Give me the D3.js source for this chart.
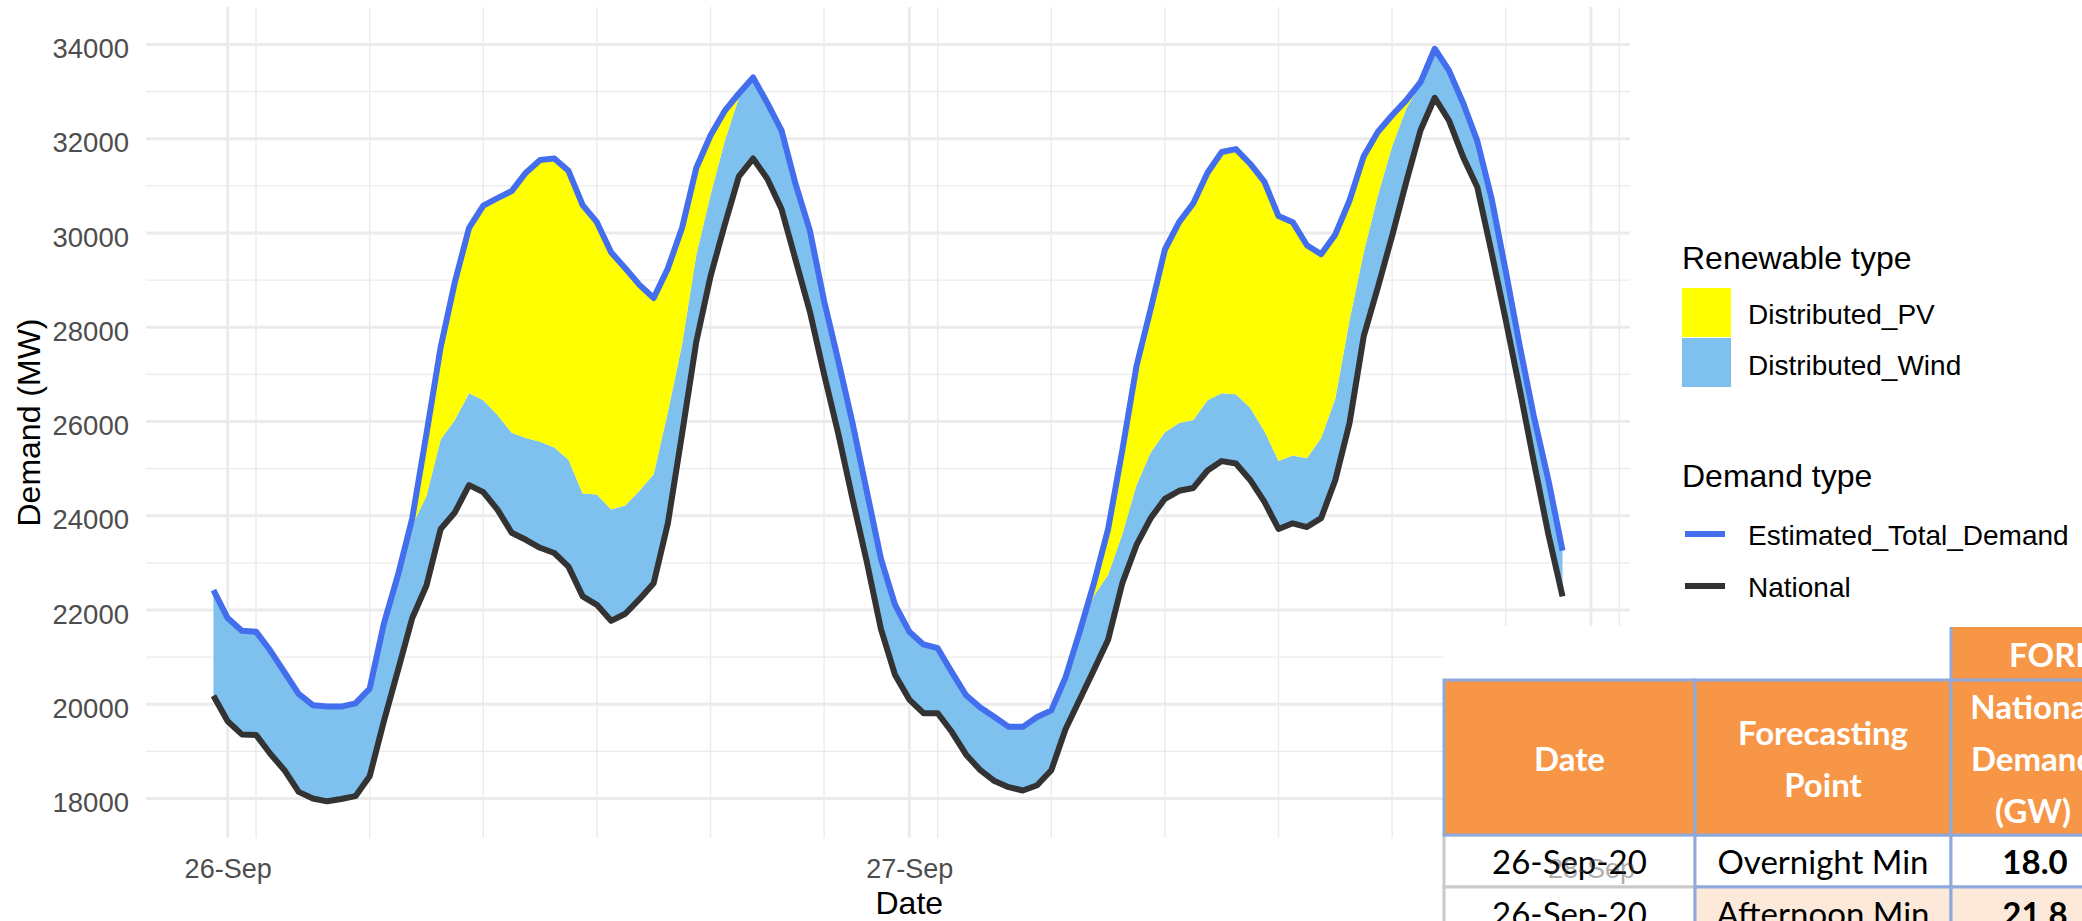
<!DOCTYPE html>
<html>
<head>
<meta charset="utf-8">
<script src="https://cdn.jsdelivr.net/npm/d3@7"></script>
<style>
    body { margin: 0; background: #fff; }
    #chart-area { width: 2082px; height: 921px; }
    svg text { font-family: "Liberation Sans", Arial, sans-serif; }
    .tbl text { font-family: Lato, "Open Sans", sans-serif; }
</style>
</head>
<body>
<div id="chart-area"></div>
<script>
// half-hourly values (MW), 25-Sep 23:30 -> 27-Sep 23:00
let national = [
    20180,19640,19360,19350,18950,18600,18140,18000,17940,17990,
    18050,18470,19640,20730,21830,22520,23720,24070,24650,24500,
    24130,23640,23490,23320,23210,22920,22290,22110,21770,21920,
    22230,22570,23840,25740,27690,29080,30170,31200,31580,31150,
    30510,29420,28330,27000,25740,24360,23030,21600,20620,20100,
    19810,19810,19410,18930,18600,18370,18240,18170,18280,18600,
    19470,20100,20730,21370,22570,23380,23950,24360,24530,24590,
    24960,25160,25110,24760,24300,23720,23840,23760,23950,24760,
    25970,27810,28850,29940,31090,32180,32870,32390,31610,30970,
    29590,28150,26660,25110,23610,22290];

let distributedWind = [
    2240,2190,2200,2190,2190,2080,2080,1980,2010,1960,
    1970,1860,2070,2020,1970,1900,1900,1960,1950,1950,
    2010,2120,2160,2250,2240,2270,2180,2340,2360,2300,
    2300,2310,2360,1900,1850,1720,1780,1670,1720,1610,
    1670,1610,1720,1560,1550,1610,1500,1490,1490,1440,
    1460,1380,1270,1260,1330,1360,1280,1350,1450,1270,
    1100,1440,1570,1380,1040,1270,1390,1410,1440,1440,
    1490,1440,1470,1530,1500,1440,1440,1460,1700,1730,
    2180,1780,1950,1900,1550,980,1040,1060,1150,980,
    1150,1040,920,970,1150,970];

let distributedPV = [
    0,0,0,0,0,0,0,0,0,0,
    0,0,0,0,150,1320,1960,2930,3510,4130,
    4600,5130,5630,5980,6130,6130,6120,5780,5460,5030,
    4370,3740,3050,2470,1840,1270,640,90,0,0,
    0,0,0,0,0,0,0,0,0,0,
    0,0,0,0,0,0,0,0,0,0,
    0,0,270,970,1780,2530,3050,3880,4260,4600,
    4830,5120,5200,5180,5290,5200,4950,4520,3900,3480,
    2540,2040,1350,660,180,40,0,0,0,0,
    0,0,0,0,0,0];

let startTime = new Date(Date.UTC(2020, 8, 25, 23, 30));
let xTickDates = [new Date(Date.UTC(2020, 8, 26)), new Date(Date.UTC(2020, 8, 27)), new Date(Date.UTC(2020, 8, 28))];
let yTicks = [18000, 20000, 22000, 24000, 26000, 28000, 30000, 32000, 34000];
let yMinorTicks = [19000, 21000, 23000, 25000, 27000, 29000, 31000, 33000];

let renewableTypes = ["Distributed_PV", "Distributed_Wind"];
let demandTypes = ["Estimated_Total_Demand", "National"];

let forecastLabel = "FORECAST";
let tableHeader = [["Date"], ["Forecasting", "Point"], ["National", "Demand", "(GW)"]];
let tableRows = [
    ["26-Sep-20", "Overnight Min", "18.0"],
    ["26-Sep-20", "Afternoon Min", "21.8"]
];

class DemandChart {

    constructor(parentElement) {
        this.parentElement = parentElement;
        this.colors = {
            Distributed_PV: "#ffff00",
            Distributed_Wind: "#7ec0ee",
            Estimated_Total_Demand: "#436eee",
            National: "#333333"
        };
        this.initVis();
    }

    initVis() {
        let vis = this;
        vis.width = 2082;
        vis.height = 921;
        vis.panel = {left: 146, right: 1630, top: 7, bottom: 838};

        vis.svg = d3.select("#" + vis.parentElement).append("svg")
            .attr("width", vis.width)
            .attr("height", vis.height);

        vis.wrangleData();
    }

    wrangleData() {
        let vis = this;

        vis.displayData = national.map((d, i) => ({
            time: d3.utcMinute.offset(startTime, 30 * i),
            National: d,
            Distributed_Wind: distributedWind[i],
            Distributed_PV: distributedPV[i]
        }));

        vis.stacked = d3.stack()
            .keys(["National", "Distributed_Wind", "Distributed_PV"])(vis.displayData);

        vis.updateVis();
    }

    updateVis() {
        let vis = this;

        // ggplot-like 5% expansion on x
        let ext = d3.extent(vis.displayData, d => d.time);
        let pad = (ext[1] - ext[0]) * 0.05;
        vis.x = d3.scaleUtc()
            .domain([new Date(+ext[0] - pad), new Date(+ext[1] + pad)])
            .range([vis.panel.left, vis.panel.right]);
        vis.y = d3.scaleLinear()
            .domain([18000, 34000])
            .range([798.5, 44.5]);

        let xMinor = d3.utcHour.range(vis.x.domain()[0], vis.x.domain()[1])
            .filter(d => d.getUTCHours() % 4 === 1);

        // grid
        let grid = vis.svg.append("g").attr("class", "grid");
        grid.selectAll(".hminor").data(yMinorTicks).enter().append("line")
            .attr("x1", vis.panel.left).attr("x2", vis.panel.right)
            .attr("y1", d => vis.y(d)).attr("y2", d => vis.y(d))
            .attr("stroke", "#ebebeb").attr("stroke-width", 1.4);
        grid.selectAll(".vminor").data(xMinor).enter().append("line")
            .attr("y1", vis.panel.top).attr("y2", vis.panel.bottom)
            .attr("x1", d => vis.x(d)).attr("x2", d => vis.x(d))
            .attr("stroke", "#ebebeb").attr("stroke-width", 1.4);
        grid.selectAll(".hmajor").data(yTicks).enter().append("line")
            .attr("x1", vis.panel.left).attr("x2", vis.panel.right)
            .attr("y1", d => vis.y(d)).attr("y2", d => vis.y(d))
            .attr("stroke", "#ebebeb").attr("stroke-width", 2.8);
        grid.selectAll(".vmajor").data(xTickDates).enter().append("line")
            .attr("y1", vis.panel.top).attr("y2", vis.panel.bottom)
            .attr("x1", d => vis.x(d)).attr("x2", d => vis.x(d))
            .attr("stroke", "#ebebeb").attr("stroke-width", 2.8);

        // stacked areas (wind, pv)
        let area = d3.area()
            .x(d => vis.x(d.data.time))
            .y0(d => vis.y(d[0]))
            .y1(d => vis.y(d[1]));

        vis.svg.selectAll(".layer")
            .data(vis.stacked.slice(1))
            .enter()
            .append("path")
            .attr("class", "layer")
            .attr("d", area)
            .attr("fill", d => vis.colors[d.key]);

        // demand lines
        let line = d3.line()
            .x(d => vis.x(d.data.time))
            .y(d => vis.y(d[1]));

        vis.svg.append("path")
            .datum(vis.stacked[2])
            .attr("d", line)
            .attr("fill", "none")
            .attr("stroke", vis.colors.Estimated_Total_Demand)
            .attr("stroke-width", 6)
            .attr("stroke-linejoin", "round");

        vis.svg.append("path")
            .datum(vis.stacked[0])
            .attr("d", line)
            .attr("fill", "none")
            .attr("stroke", vis.colors.National)
            .attr("stroke-width", 6)
            .attr("stroke-linejoin", "round");

        // y axis
        let yAxis = vis.svg.append("g")
            .attr("transform", `translate(${vis.panel.left},0)`)
            .call(d3.axisLeft(vis.y).tickValues(yTicks).tickSize(0).tickPadding(17).tickFormat(d3.format("d")));
        yAxis.select(".domain").remove();
        yAxis.selectAll("text")
            .attr("dy", 13)
            .style("font-size", "27.5px")
            .style("font-family", "Liberation Sans, Arial, sans-serif")
            .attr("fill", "#4d4d4d");

        vis.svg.append("text")
            .attr("transform", `translate(40,${(vis.panel.top + vis.panel.bottom) / 2}) rotate(-90)`)
            .attr("text-anchor", "middle")
            .style("font-size", "32px")
            .attr("fill", "black")
            .text("Demand (MW)");

        vis.svg.append("text")
            .attr("x", vis.x(xTickDates[1]))
            .attr("y", 914)
            .attr("text-anchor", "middle")
            .style("font-size", "32px")
            .attr("fill", "black")
            .text("Date");

        vis.drawLegend();
        vis.drawTable();

        // x axis drawn after the table so the 28-Sep label shows through faintly
        let xAxis = vis.svg.append("g")
            .attr("transform", `translate(0,${vis.panel.bottom})`)
            .call(d3.axisBottom(vis.x).tickValues(xTickDates).tickSize(0).tickPadding(21)
                .tickFormat(d3.utcFormat("%d-%b")));
        xAxis.select(".domain").remove();
        xAxis.selectAll("text")
            .style("font-size", "27px")
            .style("font-family", "Liberation Sans, Arial, sans-serif")
            .attr("fill", "#4d4d4d")
            .attr("opacity", (d, i) => i === 2 ? 0.45 : 1);
    }

    drawLegend() {
        let vis = this;
        let lg = vis.svg.append("g").attr("class", "legend");

        lg.append("text").attr("x", 1682).attr("y", 269)
            .style("font-size", "32px").text("Renewable type");
        lg.selectAll(".fillkey").data(renewableTypes).enter().append("rect")
            .attr("x", 1682).attr("y", (d, i) => 288 + i * 50)
            .attr("width", 49).attr("height", 49)
            .attr("fill", d => vis.colors[d]);
        lg.selectAll(".filllabel").data(renewableTypes).enter().append("text")
            .attr("x", 1748).attr("y", (d, i) => 324 + i * 51)
            .style("font-size", "28px").text(d => d);

        lg.append("text").attr("x", 1682).attr("y", 487)
            .style("font-size", "32px").text("Demand type");
        lg.selectAll(".linekey").data(demandTypes).enter().append("line")
            .attr("x1", 1685).attr("x2", 1725)
            .attr("y1", (d, i) => 534 + i * 52).attr("y2", (d, i) => 534 + i * 52)
            .attr("stroke", d => vis.colors[d]).attr("stroke-width", 6);
        lg.selectAll(".linelabel").data(demandTypes).enter().append("text")
            .attr("x", 1748).attr("y", (d, i) => 545 + i * 52)
            .style("font-size", "28px").text(d => d);
    }

    drawTable() {
        let vis = this;
        let orange = "#f79646", peach = "#fde9d9", blue = "#8ea9db", grey = "#c9c9c9";
        let colX = [1444, 1695, 1951, 2115];
        let headTop = 680, headBottom = 835, rowH = 52;

        let tbl = vis.svg.append("g").attr("class", "tbl");
        tbl.append("rect")
            .attr("x", colX[0]).attr("y", 626)
            .attr("width", vis.width - colX[0]).attr("height", vis.height - 626)
            .attr("fill", "white");

        // data rows, grey-bordered first column first
        tableRows.forEach((row, r) => {
            let top = headBottom + r * rowH;
            tbl.append("rect")
                .attr("x", colX[0]).attr("y", top)
                .attr("width", colX[1] - colX[0]).attr("height", rowH)
                .attr("fill", "white").attr("stroke", grey).attr("stroke-width", 3);
        });
        tableRows.forEach((row, r) => {
            let top = headBottom + r * rowH;
            [1, 2].forEach(c => {
                tbl.append("rect")
                    .attr("x", colX[c]).attr("y", top)
                    .attr("width", colX[c + 1] - colX[c]).attr("height", rowH)
                    .attr("fill", r === 1 ? peach : "white")
                    .attr("stroke", blue).attr("stroke-width", 3);
            });
            row.forEach((txt, c) => {
                tbl.append("text")
                    .attr("x", (colX[c] + colX[c + 1]) / 2 + (c === 2 ? 2 : 0))
                    .attr("y", top + 39)
                    .attr("text-anchor", "middle")
                    .style("font-size", "33px")
                    .style("font-weight", c === 2 ? "bold" : "normal")
                    .attr("fill", "black")
                    .text(txt);
            });
        });

        // header
        tbl.append("rect")
            .attr("x", colX[2]).attr("y", 627)
            .attr("width", colX[3] - colX[2]).attr("height", headTop - 627)
            .attr("fill", orange);
        tbl.append("line")
            .attr("x1", colX[2]).attr("x2", colX[2]).attr("y1", 627).attr("y2", headTop)
            .attr("stroke", blue).attr("stroke-width", 3);
        tbl.append("text")
            .attr("x", 2009).attr("y", 667)
            .style("font-size", "33px").style("font-weight", "bold")
            .attr("fill", "white").text(forecastLabel);

        tableHeader.forEach((lines, c) => {
            tbl.append("rect")
                .attr("x", colX[c]).attr("y", headTop)
                .attr("width", colX[c + 1] - colX[c]).attr("height", headBottom - headTop)
                .attr("fill", orange).attr("stroke", blue).attr("stroke-width", 3);
            let mid = (headTop + headBottom) / 2;
            lines.forEach((ln, k) => {
                tbl.append("text")
                    .attr("x", (colX[c] + colX[c + 1]) / 2)
                    .attr("y", mid + (k - (lines.length - 1) / 2) * 52 + 13)
                    .attr("text-anchor", "middle")
                    .style("font-size", "33px").style("font-weight", "bold")
                    .attr("fill", "white")
                    .text(ln);
            });
        });
    }
}

let demandChart = new DemandChart("chart-area");
</script>
</body>
</html>
